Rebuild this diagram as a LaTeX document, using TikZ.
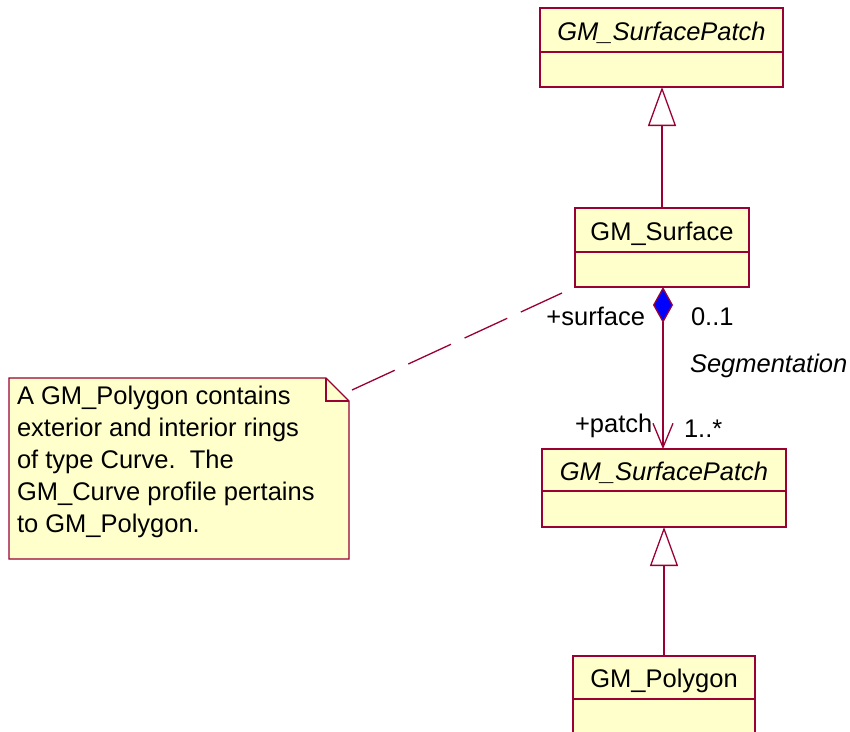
\documentclass[tikz,border=0pt]{standalone}
\usepackage{fontspec}
\setmainfont{Liberation Sans}
\usetikzlibrary{arrows.meta}

\definecolor{umlline}{RGB}{153,0,51}
\definecolor{umlfill}{RGB}{255,255,204}

\tikzset{
  umltext/.style={font=\fontsize{25.5}{32}\selectfont, inner sep=0pt, outer sep=0pt},
  cls/.style={draw=umlline, fill=umlfill, line width=1.3pt, rectangle,
              inner sep=0pt, outer sep=0pt, anchor=north west},
  divider/.style={draw=umlline, line width=1.3pt},
  gen/.style={draw=umlline, line width=1.3pt,
              -{Triangle[open, length=39pt, width=28pt, line width=1.3pt]}},
  comp/.style={draw=umlline, line width=1.3pt,
               {Diamond[fill=blue, length=36pt, width=20pt, line width=1.3pt]}-{Straight Barb[length=24pt, width=20pt, line width=1.3pt]}},
  notebox/.style={draw=umlline, fill=umlfill, line width=1.3pt, line join=miter},
  anchorline/.style={draw=umlline, line width=1.3pt, dash pattern=on 47pt off 15pt}
}

\begin{document}
\begin{tikzpicture}[x=1pt, y=-1pt]
\useasboundingbox (0,0) rectangle (850,731);
\clip (0,0) rectangle (850,731);

% abstract parent class
\node[cls, minimum width=243pt, minimum height=79pt] (spTop) at (540,8) {};
\draw[divider] ([yshift=-44pt]spTop.north west) -- ([yshift=-44pt]spTop.north east);
\node[umltext, anchor=base] (spTopName) at (661.5,40) {\itshape GM\_SurfacePatch};

% surface class
\node[cls, minimum width=174pt, minimum height=79pt] (surf) at (575,208) {};
\draw[divider] ([yshift=-44pt]surf.north west) -- ([yshift=-44pt]surf.north east);
\node[umltext, anchor=base] (surfName) at (662,240) {GM\_Surface};

% patch class
\node[cls, minimum width=244pt, minimum height=78pt] (patch) at (542,449) {};
\draw[divider] ([yshift=-42pt]patch.north west) -- ([yshift=-42pt]patch.north east);
\node[umltext, anchor=base] (patchName) at (664,480) {\itshape GM\_SurfacePatch};

% polygon class (runs past the lower edge)
\node[cls, minimum width=182pt, minimum height=100pt] (poly) at (573,656) {};
\draw[divider] ([yshift=-43pt]poly.north west) -- ([yshift=-43pt]poly.north east);
\node[umltext, anchor=base] (polyName) at (664,687) {GM\_Polygon};

% generalizations
\draw[gen] (surf.north) -- (surf.north |- spTop.south);
\draw[gen] (poly.north) -- (poly.north |- patch.south);

% composition association
\draw[comp] (663,287) -- (663,449);
\node[umltext, anchor=base east] (roleSurf) at (645,325) {+surface};
\node[umltext, anchor=base west] (multSurf) at (691,325) {0..1};
\node[umltext, anchor=base west] (assocName) at (690,372) {\itshape Segmentation};
\node[umltext, anchor=base west] (rolePatch) at (575,432) {+patch};
\node[umltext, anchor=base west] (multPatch) at (684,437) {1..*};

% note
\draw[notebox] (9,378) -- (326,378) -- (349,401) -- (349,559) -- (9,559) -- cycle;
\draw[notebox, fill=none] (326,378) -- (326,401) -- (349,401);
\node[umltext, anchor=north west, align=left] (noteText) at (17,386)
  {A GM\_Polygon contains\\exterior and interior rings\\of type Curve.\ \ The\\GM\_Curve profile pertains\\to GM\_Polygon.};

% note attachment
\coordinate (noteEnd) at (352,390);
\coordinate (surfEnd) at (562,293);
\draw[anchorline] (noteEnd) -- (surfEnd);
\end{tikzpicture}
\end{document}
